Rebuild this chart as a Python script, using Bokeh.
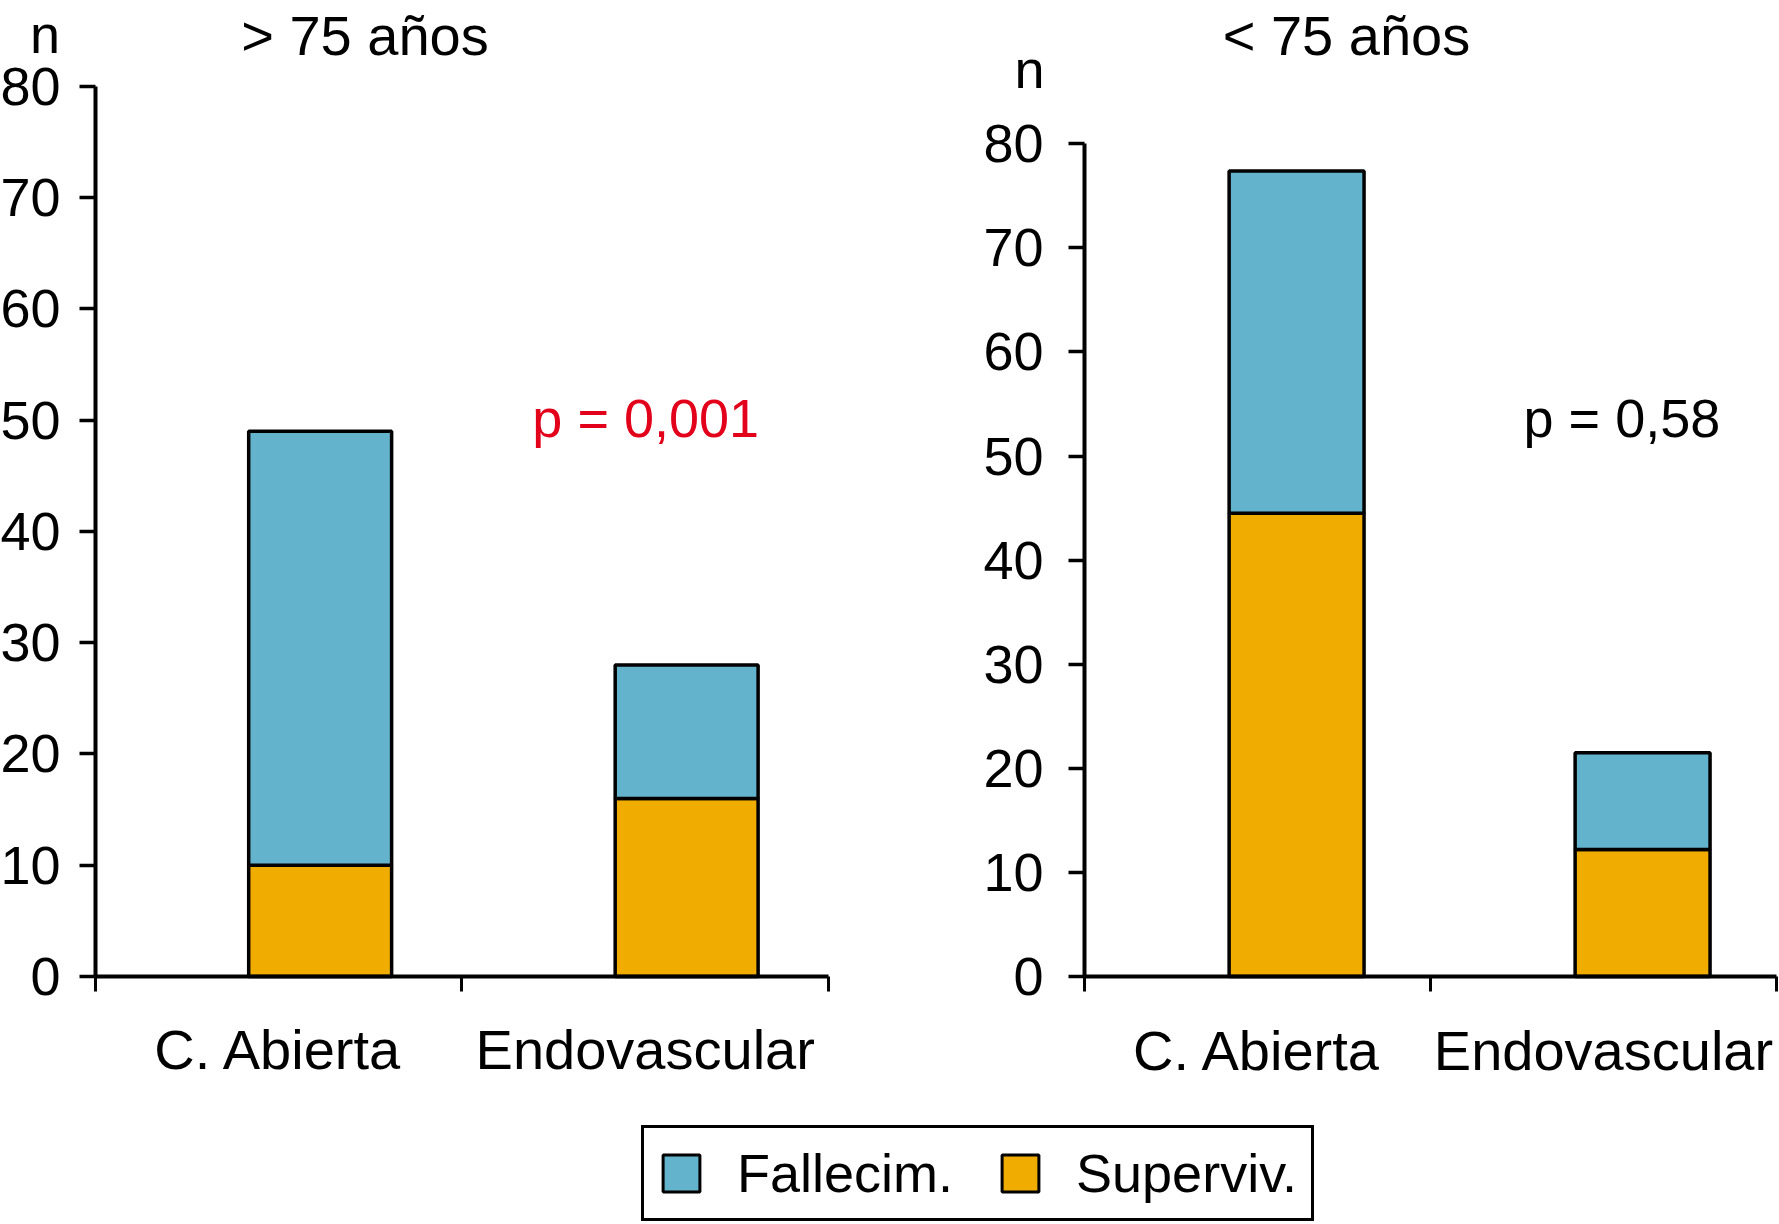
from bokeh.plotting import figure
from bokeh.models import (ColumnDataSource, FixedTicker, Label, Legend,
                          LegendItem, Range1d)
from bokeh.layouts import column, row
from bokeh.embed import file_html
from bokeh.resources import INLINE

# ---------------- data ----------------
categories = ["C. Abierta", "Endovascular"]
group_titles = ["> 75 años", "< 75 años"]
series_names = ["Fallecim.", "Superviv."]
fallecim_mayor75 = [39, 12]
superviv_mayor75 = [10, 16]
fallecim_menor75 = [32.9, 9.3]
superviv_menor75 = [44.5, 12.2]
p_labels = ["p = 0,001", "p = 0,58"]
y_ticks = [0, 10, 20, 30, 40, 50, 60, 70, 80]
y_unit = "n"

# ---------------- style ----------------
FONT = "Liberation Sans"
FS = "56px"
FS_TICK = "54px"
FS_P = "54px"
FS_N = "54px"
BLUE = "#62b3cb"
ORANGE = "#f0ad00"
RED = "#e2001a"
BAR_W = 0.39
BAR_SHIFT = 0.113
ROW_H = 1092


def make_panel(title, superviv, fallecim, pval, pcolor, width, xr, yr,
               y_standoff, pos):
    n = len(categories)
    p = figure(width=width, height=ROW_H, output_backend="svg",
               toolbar_location=None,
               x_range=Range1d(*xr), y_range=Range1d(*yr), min_border=0)
    p.outline_line_color = None
    p.grid.visible = False
    p.background_fill_color = "white"
    p.border_fill_color = "white"

    xs = [i + 0.5 + BAR_SHIFT for i in range(n)]
    src = ColumnDataSource(dict(x=xs, superviv=superviv, fallecim=fallecim))
    p.vbar_stack(["superviv", "fallecim"], x="x", width=BAR_W, source=src,
                 fill_color=[ORANGE, BLUE], line_color="black", line_width=3.5)

    # y axis, pinned at x = 0 and limited to 0..80
    ya = p.yaxis[0]
    ya.fixed_location = 0
    ya.bounds = (y_ticks[0], y_ticks[-1])
    ya.ticker = FixedTicker(ticks=y_ticks)
    ya.axis_line_width = 4
    ya.major_tick_line_width = 3.5
    ya.major_tick_out = 16
    ya.major_tick_in = 0
    ya.minor_tick_line_color = None
    ya.major_label_text_font = FONT
    ya.major_label_text_font_size = FS_TICK
    ya.major_label_text_color = "black"
    ya.major_label_standoff = y_standoff

    # x axis pinned at y = 0: labels at category centres, marks at boundaries
    xa = p.xaxis[0]
    centers = [i + 0.5 for i in range(n)]
    xa.fixed_location = 0
    xa.bounds = (0, n)
    xa.ticker = FixedTicker(ticks=centers, minor_ticks=list(range(n + 1)))
    xa.major_label_overrides = {c: lab for c, lab in zip(centers, categories)}
    xa.axis_line_width = 4
    xa.major_tick_out = 0
    xa.major_tick_in = 0
    xa.major_tick_line_color = None
    xa.minor_tick_out = 15
    xa.minor_tick_in = 0
    xa.minor_tick_line_width = 3
    xa.minor_tick_line_color = "black"
    xa.major_label_text_font = FONT
    xa.major_label_text_font_size = FS
    xa.major_label_text_color = "black"
    xa.major_label_standoff = 27

    (tx, ty), (nx, ny), (px, py) = pos
    p.add_layout(Label(x=tx, y=ty, text=title, text_font=FONT,
                       text_font_size=FS, text_align="center",
                       text_baseline="alphabetic", text_color="black"))
    p.add_layout(Label(x=nx, y=ny, text=y_unit, text_font=FONT,
                       text_font_size=FS_N, text_align="center",
                       text_baseline="alphabetic", text_color="black"))
    p.add_layout(Label(x=px, y=py, text=pval, text_font=FONT,
                       text_font_size=FS_P, text_align="left",
                       text_baseline="alphabetic", text_color=pcolor))
    return p


p1 = make_panel(group_titles[0], superviv_mayor75, fallecim_mayor75,
                p_labels[0], RED, 840, (-0.25921, 2.0328), (-10.427, 87.73), 19,
                ((0.7353, 84.54), (-0.1378, 84.70), (1.1920, 50.21)))
p2 = make_panel(group_titles[1], superviv_menor75, fallecim_menor75,
                p_labels[1], "black", 939, (-0.70520, 2.0087), (-11.144, 93.77), 25,
                ((0.7572, 90.40), (-0.1590, 87.20), (1.2690, 53.70)))

# legend strip
p3 = figure(width=1779, height=130, output_backend="svg",
            toolbar_location=None, x_range=Range1d(0, 1), y_range=Range1d(0, 1),
            x_axis_location=None, y_axis_location=None,
            min_border=0)
p3.outline_line_color = None
p3.grid.visible = False
nan = float("nan")
r_f = p3.vbar(x=[nan], top=[nan], width=0.1, fill_color=BLUE,
              line_color="black", line_width=3)
r_s = p3.vbar(x=[nan], top=[nan], width=0.1, fill_color=ORANGE,
              line_color="black", line_width=3)
legend = Legend(items=[LegendItem(label=series_names[0], renderers=[r_f]),
                       LegendItem(label=series_names[1], renderers=[r_s])],
                orientation="horizontal", location=(641, 1),
                label_text_font=FONT, label_text_font_size="54px",
                label_text_color="black",
                glyph_width=46, glyph_height=46, label_standoff=33,
                spacing=44, padding=14, margin=0,
                border_line_color="black", border_line_width=3,
                border_line_alpha=1,
                background_fill_color="white", background_fill_alpha=1)
p3.add_layout(legend)

layout = column(row(p1, p2), p3)
open("out.html", "w").write(file_html(layout, INLINE))
